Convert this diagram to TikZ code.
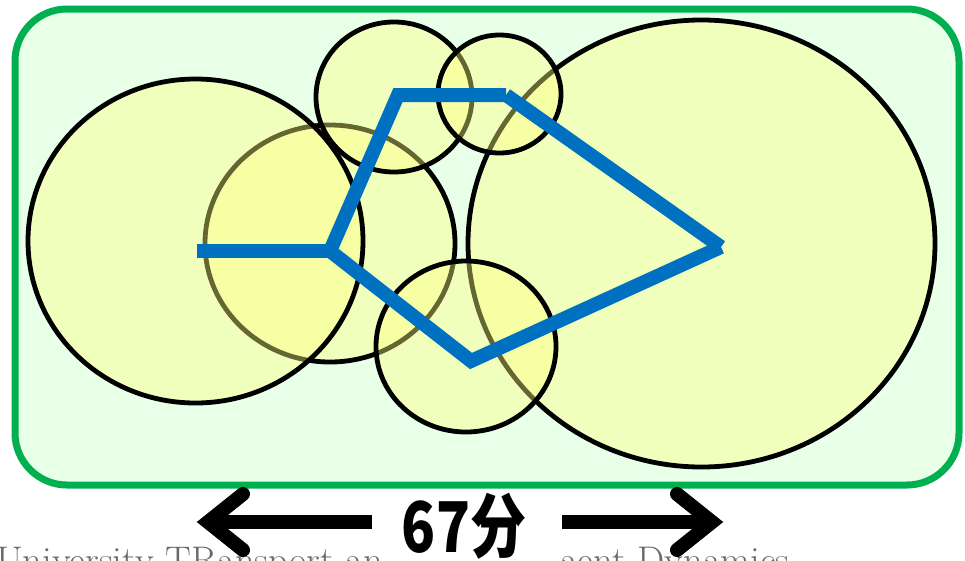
\documentclass[tikz,border=0pt]{standalone}
\usepackage{fontspec}
\newfontfamily\cjk{Noto Sans CJK SC}
\definecolor{bordergreen}{RGB}{0,176,80}
\definecolor{bggreen}{RGB}{232,255,232}
\definecolor{cyel}{RGB}{255,255,125}
\definecolor{pathblue}{RGB}{0,112,192}
\definecolor{txtgray}{RGB}{105,105,105}
\begin{document}
\begin{tikzpicture}[x=1pt,y=-1pt,
  frame/.style={draw=bordergreen,line width=7pt,fill=bggreen,rounded corners=52pt},
  bubble/.style={draw=black,line width=4.8pt,fill=cyel,fill opacity=0.4},
  route/.style={draw=pathblue,line width=14pt,line cap=butt,line join=miter},
  bigarrow/.style={draw=black,line width=14pt,line join=miter},
  note/.style={text=txtgray,font=\fontsize{38.5}{44}\selectfont,inner sep=0pt,anchor=base west},
  lbl/.style={fill=white,inner sep=0pt,minimum width=166pt,minimum height=68pt}]
\useasboundingbox (0,0) rectangle (965,560);
% background text (partly hidden)
\node[note] (t1) at (-4,573) {University TRansport an};
\node[note] (t2) at (560,573) {aent Dynamics};
% frame
\draw[frame] (15,9) rectangle (959,485);
% circles
\draw[bubble] (330,243.5) ellipse [x radius=125, y radius=118.5];
\draw[bubble] (195.5,241) ellipse [x radius=167.5, y radius=162];
\draw[bubble] (394,97) ellipse [x radius=78, y radius=75];
\draw[bubble] (701.5,243.5) ellipse [x radius=233.5, y radius=223.5];
\draw[bubble] (499.5,94) ellipse [x radius=61.5, y radius=59];
\draw[bubble] (466,346.5) ellipse [x radius=90, y radius=85.5];
% route
\coordinate (A) at (197,251);
\coordinate (B) at (330,251);
\coordinate (C) at (398,95);
\coordinate (D) at (506,95);
\coordinate (E) at (721,247);
\coordinate (F) at (471,361);
\draw[route] (A) -- (B);
\draw[route] (B) -- (C) -- (D);
\draw[route] (D) -- (E);
\draw[route] (E) -- (F) -- (B);
% label and arrows
\node[lbl] (L) at (475,526) {\scalebox{0.8}[1]{\cjk\bfseries\fontsize{70}{80}\selectfont 67分}\hspace*{22pt}};
\coordinate (LS) at (372,522);
\coordinate (LT) at (208,522);
\coordinate (LU) at (243,494);
\coordinate (LD) at (243,550);
\coordinate (RS) at (562,522);
\coordinate (RT) at (712,522);
\coordinate (RU) at (677,494);
\coordinate (RD) at (677,550);
\draw[bigarrow] (LS) -- (LT);
\draw[bigarrow,line cap=round] (LU) -- (LT) -- (LD);
\draw[bigarrow] (RS) -- (RT);
\draw[bigarrow,line cap=round] (RU) -- (RT) -- (RD);
\end{tikzpicture}
\end{document}
